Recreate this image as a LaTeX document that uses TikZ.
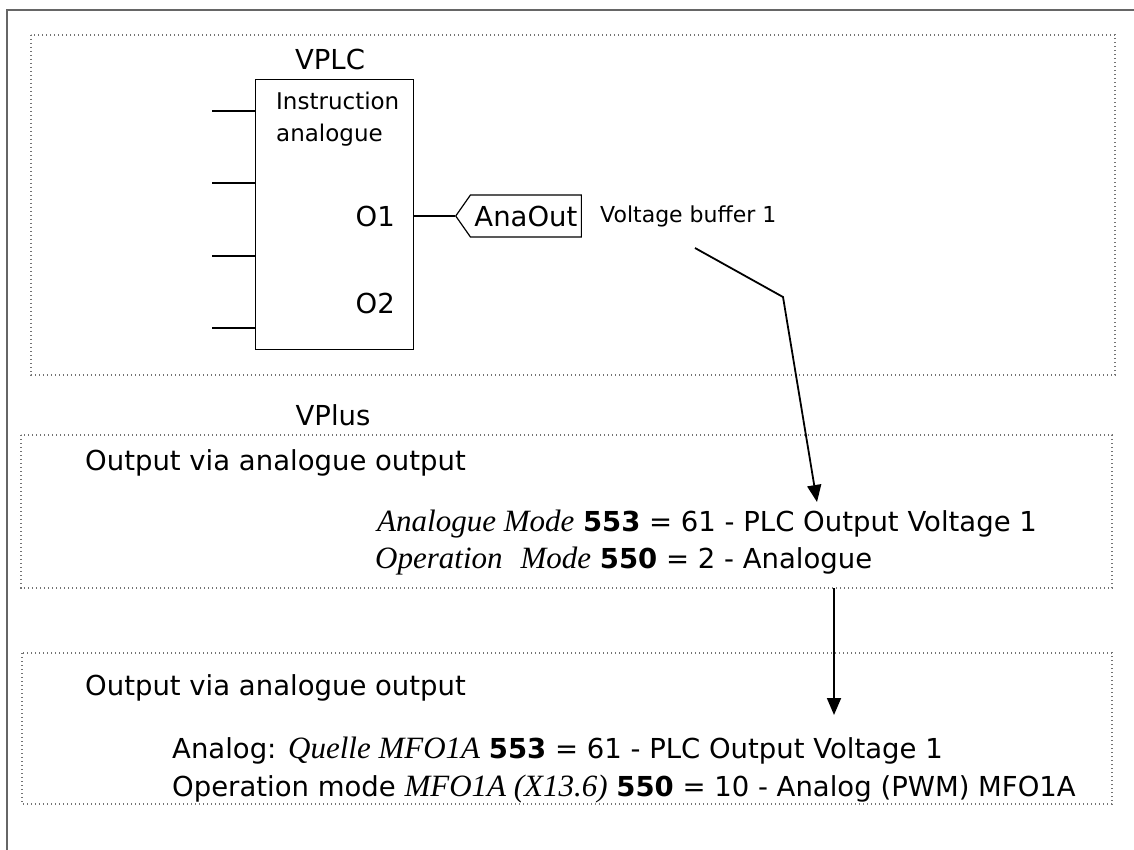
\documentclass[tikz,border=0pt]{standalone}
\usepackage{fontspec}
\setmainfont{DejaVu Sans}
\newfontfamily\serifit{Liberation Serif}
\usetikzlibrary{arrows.meta, positioning, shapes.symbols}
\newcommand{\pname}[1]{{\serifit\itshape\fontsize{31}{33}\selectfont #1}}

\begin{document}
\begin{tikzpicture}[x=1pt, y=-1pt,
  dotbox/.style={draw=black!55, line width=1.1pt, dash pattern=on 1.1pt off 2.9pt},
  txt/.style={inner sep=0pt, font=\fontsize{27.5}{33}\selectfont},
  small/.style={inner sep=0pt, font=\fontsize{23}{28}\selectfont},
  link/.style={line width=1.8pt, -{Triangle[length=17pt, width=14pt]}}]
  \useasboundingbox (0,0) rectangle (1134,850);
  % outer frame
  \draw[draw=black!60, line width=2.2pt] (1134,10) -- (7,10) -- (7,850);
  % dotted areas
  \draw[dotbox] (31,35) rectangle (1115,375);
  \draw[dotbox] (21,435) rectangle (1112,588);
  \draw[dotbox] (22,653) rectangle (1112,804);
  % VPLC block
  \node[txt, anchor=base] (vplc) at (330,70) {VPLC};
  \node[draw, line width=1.2pt, minimum width=158pt, minimum height=270pt,
    anchor=north west, inner sep=0pt] (blk) at (255,79) {};
  \node[small, anchor=base west] (ins1) at (276,110) {Instruction};
  \node[small, anchor=base west] (ins2) at (276,142) {analogue};
  \node[txt, anchor=base east] (o1) at (395,226) {O1};
  \node[txt, anchor=base east] (o2) at (395,313) {O2};
  % inputs
  \foreach \y [count=\i] in {111,183,256,328} {
    \coordinate (in\i) at (212,\y);
    \draw[line width=1.5pt] (in\i) -- (in\i -| blk.west);
  }
  % output tag
  \node[txt, signal, draw, line width=1.2pt, signal to=west, signal pointer angle=110,
    minimum height=42pt, inner xsep=4pt, anchor=west] (ana) at (455,216) {AnaOut};
  \draw[line width=1.5pt] (blk.east |- ana.west) -- (ana.west);
  \node[anchor=base west, font=\fontsize{22}{26}\selectfont, inner sep=0pt] (vbuf) at (600,223) {Voltage buffer 1};
  % VPlus
  \node[txt, anchor=base] (vplus) at (333,425) {VPlus};
  \node[txt, anchor=base west] (out1) at (85,470) {Output via analogue output};
  \node[txt, anchor=base west] (p553) at (377,531) {\pname{Analogue Mode} \textbf{553} = 61 - PLC Output Voltage 1};
  \node[txt, anchor=base west] (p550) at (375,568) {\pname{Operation\hspace{18pt}Mode} \textbf{550} = 2 - Analogue};
  % drive
  \node[txt, anchor=base west] (out2) at (85,695) {Output via analogue output};
  \node[txt, anchor=base west] (q553) at (172,758) {Analog: \pname{Quelle MFO1A} \textbf{553} = 61 - PLC Output Voltage 1};
  \node[txt, anchor=base west] (q550) at (172,796) {Operation mode \pname{MFO1A (X13.6)} \textbf{550} = 10 - Analog (PWM) MFO1A};
  % arrows
  \coordinate (a1) at (695,248);
  \coordinate (a2) at (783,297);
  \coordinate (a3) at (817,502);
  \draw[link] (a1) -- (a2) -- (a3);
  \coordinate (b1) at (834,588);
  \coordinate (b2) at (834,715);
  \draw[link] (b1) -- (b2);
\end{tikzpicture}
\end{document}
